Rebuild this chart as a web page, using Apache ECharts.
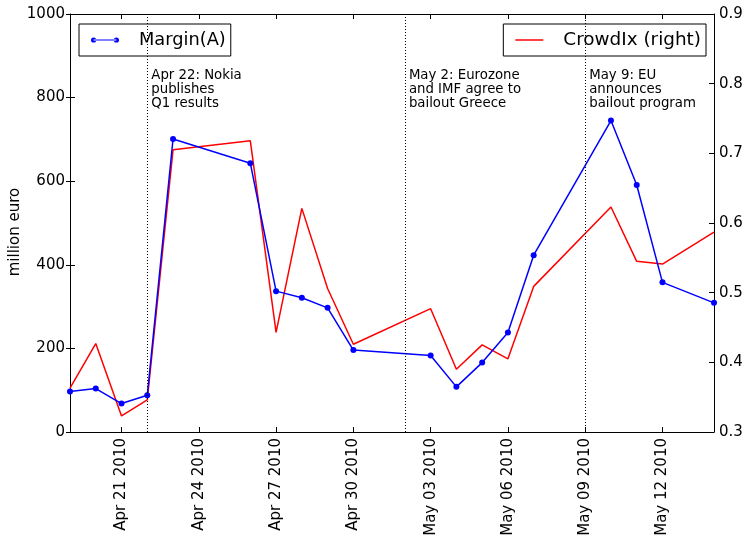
<!DOCTYPE html>
<html>
<head>
<meta charset="utf-8">
<script src="https://cdn.jsdelivr.net/npm/echarts@6/dist/echarts.min.js"></script>
<style>
  html, body { margin: 0; padding: 0; background: #fff; }
  #chart { width: 746px; height: 536px; }
</style>
</head>
<body>
<div id="chart"></div>
<script>
// Daily observations
const dates = ['2010-04-19','2010-04-20','2010-04-21','2010-04-22','2010-04-23',
  '2010-04-26','2010-04-27','2010-04-28','2010-04-29','2010-04-30',
  '2010-05-03','2010-05-04','2010-05-05','2010-05-06','2010-05-07',
  '2010-05-10','2010-05-11','2010-05-12','2010-05-14'];
// Margin(A), million euro (left axis)
const margin = [97, 104, 68, 88, 701, 643, 337, 321, 297, 196,
  183, 108, 166, 238, 423, 745, 591, 358, 309];
// CrowdIx index (right axis)
const crowdIx = [0.363, 0.427, 0.323, 0.346, 0.705, 0.718, 0.443, 0.621, 0.506, 0.426,
  0.477, 0.390, 0.425, 0.405, 0.509, 0.623, 0.545, 0.541, 0.587];
// Date tick positions
const tickDates = ['2010-04-21','2010-04-24','2010-04-27','2010-04-30',
  '2010-05-03','2010-05-06','2010-05-09','2010-05-12'];
const xStart = '2010-04-19';
const xEnd = '2010-05-14';
// Event markers
const eventDates = ['2010-04-22', '2010-05-02', '2010-05-09'];
const eventTexts = [
  'Apr 22: Nokia\npublishes\nQ1 results',
  'May 2: Eurozone\nand IMF agree to\nbailout Greece',
  'May 9: EU\nannounces\nbailout program'
];
const eventTextLevel = 871;

const MONTHS = ['Jan','Feb','Mar','Apr','May','Jun','Jul','Aug','Sep','Oct','Nov','Dec'];
const toUTC = s => { const p = s.split('-').map(Number); return Date.UTC(p[0], p[1] - 1, p[2]); };
const fmtDate = v => {
  const d = new Date(v);
  const dd = String(d.getUTCDate()).padStart(2, '0');
  return MONTHS[d.getUTCMonth()] + ' ' + dd + ' ' + d.getUTCFullYear();
};

const FONT = 'DejaVu Sans';
const tickFont = { fontFamily: FONT, fontSize: 15, color: '#000' };
const blackLine = { color: '#000', width: 1 };
const xTicks = tickDates.map(toUTC);

const marginIcon = 'path://M3,2.5L25,2.5L25,3.5L3,3.5Z' +
  'M0.5,3A2.5,2.5,0,1,0,5.5,3A2.5,2.5,0,1,0,0.5,3Z' +
  'M22.5,3A2.5,2.5,0,1,0,27.5,3A2.5,2.5,0,1,0,22.5,3Z';

const legendText = size => ({ fontFamily: FONT, fontSize: size, color: '#000', lineHeight: 20, padding: [0, 0, 0, 15] });
const legendBase = {
  top: 24,
  orient: 'horizontal',
  selectedMode: false,
  backgroundColor: '#fff',
  borderColor: '#000',
  borderWidth: 1,
  borderRadius: 0,
  padding: [6, 5, 6, 12],
  itemWidth: 28
};

const chart = echarts.init(document.getElementById('chart'), null, { renderer: 'canvas' });
chart.setOption({
  animation: false,
  backgroundColor: '#fff',
  grid: { left: 70, right: 32, top: 14, bottom: 104, containLabel: false, outerBoundsMode: 'none' },
  legend: [
    Object.assign({}, legendBase, {
      left: 79,
      itemHeight: 6,
      textStyle: legendText(17.8),
      data: [{ name: 'Margin(A)', icon: marginIcon, itemStyle: { color: '#0000ff', borderWidth: 0 } }]
    }),
    Object.assign({}, legendBase, {
      right: 40,
      itemHeight: 1.5,
      textStyle: legendText(18.4),
      data: [{ name: 'CrowdIx (right)', icon: 'rect', itemStyle: { color: '#ff0000', borderWidth: 0 } }]
    })
  ],
  xAxis: [
    {
      type: 'value',
      position: 'bottom',
      min: toUTC(xStart),
      max: toUTC(xEnd),
      axisLine: { show: true, onZero: false, lineStyle: blackLine },
      axisTick: { show: true, inside: true, length: 5, lineStyle: blackLine, customValues: xTicks },
      axisLabel: Object.assign({ rotate: 90, margin: 6, formatter: fmtDate, customValues: xTicks }, tickFont),
      splitLine: { show: false }
    },
    {
      type: 'value',
      position: 'top',
      min: toUTC(xStart),
      max: toUTC(xEnd),
      axisLine: { show: true, onZero: false, lineStyle: blackLine },
      axisTick: { show: true, inside: true, length: 5, lineStyle: blackLine, customValues: xTicks },
      axisLabel: { show: false },
      splitLine: { show: false }
    }
  ],
  yAxis: [
    {
      type: 'value',
      position: 'left',
      min: 0,
      max: 1000,
      interval: 200,
      name: 'million euro',
      nameLocation: 'middle',
      nameGap: 47,
      nameRotate: 90,
      nameMoveOverlap: false,
      nameTextStyle: { fontFamily: FONT, fontSize: 15, color: '#000', padding: [0, 18, 0, 0] },
      axisLine: { show: true, onZero: false, lineStyle: blackLine },
      axisTick: { show: true, inside: true, length: 5, lineStyle: blackLine },
      axisLabel: Object.assign({ margin: 5, formatter: v => String(v) }, tickFont),
      splitLine: { show: false }
    },
    {
      type: 'value',
      position: 'right',
      min: 0.3,
      max: 0.9,
      interval: 0.1,
      axisLine: { show: true, onZero: false, lineStyle: blackLine },
      axisTick: { show: true, inside: true, length: 5, lineStyle: blackLine },
      axisLabel: Object.assign({ margin: 5, formatter: v => v.toFixed(1) }, tickFont),
      splitLine: { show: false }
    },
    {
      // short outer ticks on the left spine
      type: 'value',
      position: 'left',
      offset: 0,
      min: 0,
      max: 1000,
      interval: 200,
      axisLine: { show: false },
      axisTick: { show: true, inside: false, length: 4, lineStyle: blackLine },
      axisLabel: { show: false },
      splitLine: { show: false }
    }
  ],
  series: [
    {
      name: 'Margin(A)',
      type: 'line',
      xAxisIndex: 0,
      yAxisIndex: 0,
      data: dates.map((d, i) => [toUTC(d), margin[i]]),
      symbol: 'circle',
      symbolSize: 6,
      showSymbol: true,
      lineStyle: { color: '#0000ff', width: 1.5 },
      itemStyle: { color: '#0000ff' },
      z: 3,
      markLine: {
        silent: true,
        symbol: 'none',
        label: { show: false },
        lineStyle: { color: '#000', width: 1, type: [1, 2] },
        data: eventDates.map(d => ({ xAxis: toUTC(d) }))
      },
      markPoint: {
        silent: true,
        symbol: 'circle',
        symbolSize: 0,
        itemStyle: { color: 'transparent' },
        label: {
          show: true,
          position: [4, 0],
          align: 'left',
          verticalAlign: 'top',
          fontFamily: FONT,
          fontSize: 13.3,
          lineHeight: 14.3,
          color: '#000',
          formatter: p => p.name
        },
        data: eventDates.map((d, i) => ({ name: eventTexts[i], coord: [toUTC(d), eventTextLevel] }))
      }
    },
    {
      name: 'CrowdIx (right)',
      type: 'line',
      xAxisIndex: 0,
      yAxisIndex: 1,
      data: dates.map((d, i) => [toUTC(d), crowdIx[i]]),
      symbol: 'none',
      lineStyle: { color: '#ff0000', width: 1.5 },
      itemStyle: { color: '#ff0000' },
      z: 2
    }
  ]
});
</script>
</body>
</html>
